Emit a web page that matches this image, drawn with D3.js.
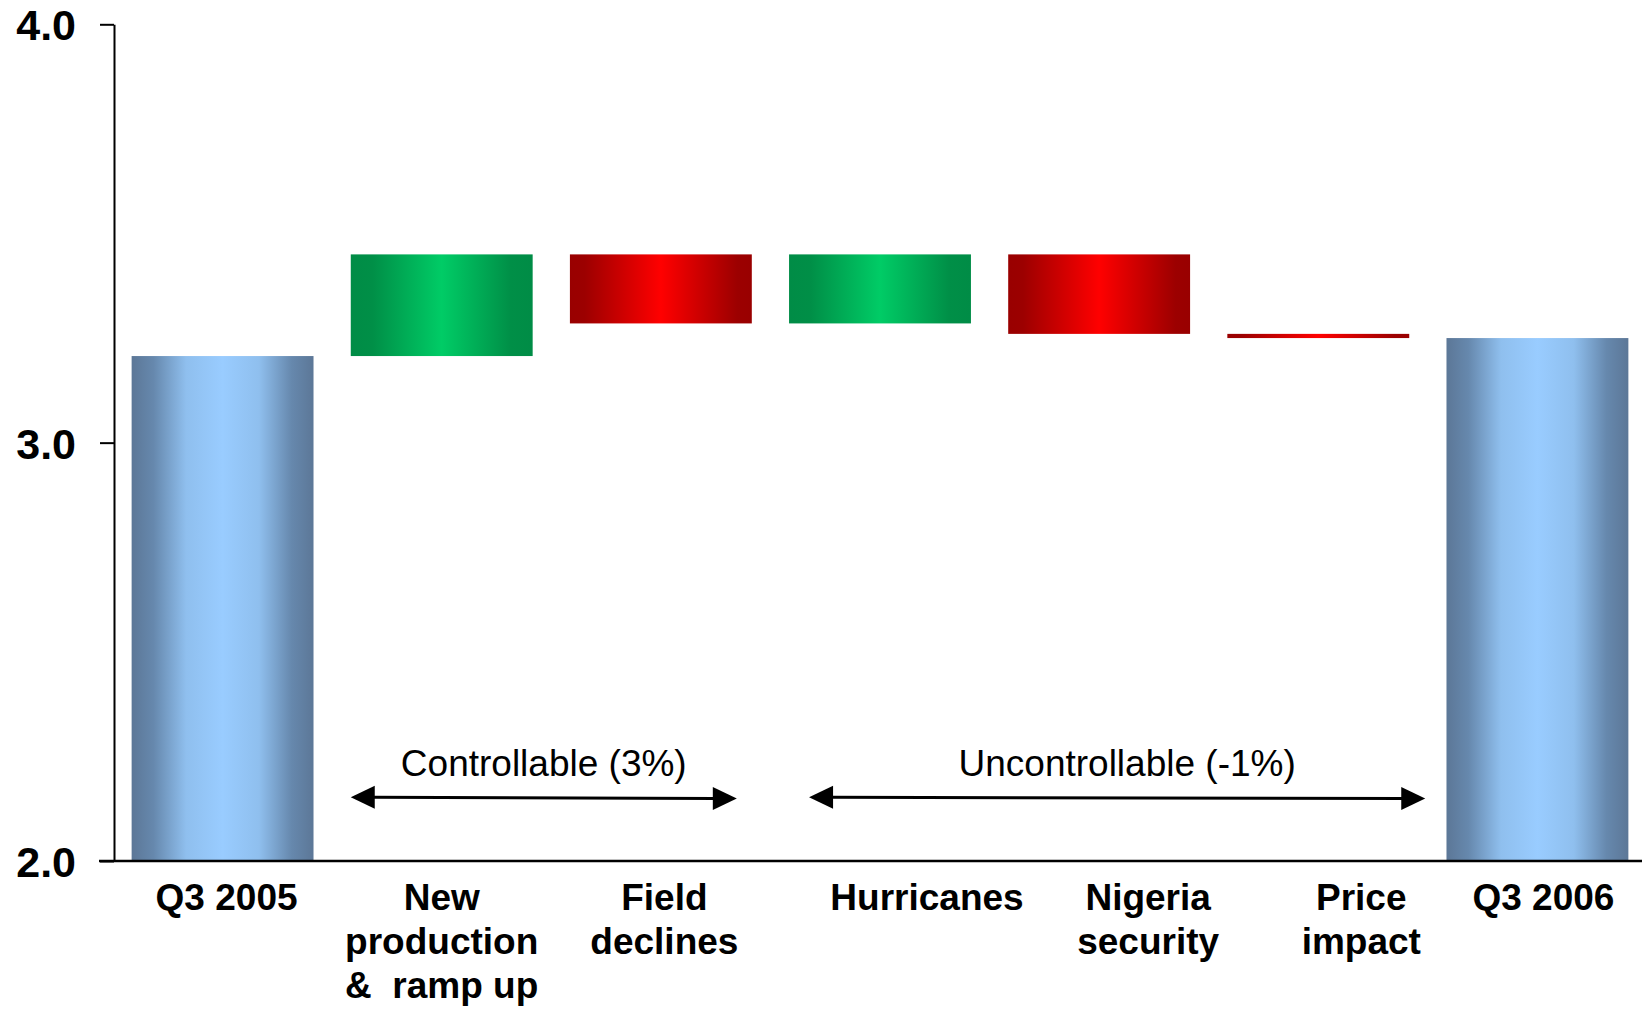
<!DOCTYPE html>
<html>
<head>
<meta charset="utf-8">
<script src="https://cdn.jsdelivr.net/npm/d3@7"></script>
<style>
  html, body { margin: 0; padding: 0; background: #fff; }
  svg { display: block; font-family: "Liberation Sans", Arial, sans-serif; }
</style>
</head>
<body>
<svg id="chart" width="1642" height="1010"></svg>
<script>
// Production bridge, Q3 2005 to Q3 2006
const categories = ["Q3 2005", "New production & ramp up", "Field declines", "Hurricanes", "Nigeria security", "Price impact", "Q3 2006"];
const categoryLines = [["Q3 2005"], ["New", "production", "&  ramp up"], ["Field", "declines"], ["Hurricanes"], ["Nigeria", "security"], ["Price", "impact"], ["Q3 2006"]];
const startValue = 3.207;
const changes = [0.243, -0.165, 0.165, -0.19, -0.01];
const endValue = 3.25;
const yTicks = [2.0, 3.0, 4.0];
const groupLabels = ["Controllable (3%)", "Uncontrollable (-1%)"];
const groupRanges = [[1, 2], [3, 5]];

// Build waterfall segments
const bars = [];
let running = startValue;
bars.push({ name: categories[0], y0: 2, y1: startValue, kind: "total" });
changes.forEach((d, i) => {
  const next = running + d;
  bars.push({ name: categories[i + 1], y0: Math.min(running, next), y1: Math.max(running, next), kind: d >= 0 ? "up" : "down" });
  running = next;
});
bars.push({ name: categories[6], y0: 2, y1: endValue, kind: "total" });

const svg = d3.select("#chart");
const axisX = 114, axisTop = 24.3, axisBottom = 861;

const x = d3.scaleBand().domain(categories).range([113, 1647]).paddingInner(0.17).paddingOuter(0.085);
const y = d3.scaleLinear().domain([2, 4]).range([axisBottom, axisTop]);

// Gradients
const defs = svg.append("defs");
function grad(id, stops) {
  const g = defs.append("linearGradient").attr("id", id).attr("x1", "0%").attr("x2", "100%").attr("y1", "0%").attr("y2", "0%");
  stops.forEach(([o, c]) => g.append("stop").attr("offset", o).attr("stop-color", c));
}
grad("g-total", [[0, "#5c7797"], [0.12, "#6688ad"], [0.3, "#8fbfee"], [0.5, "#99ccff"], [0.7, "#8fbfee"], [0.88, "#6688ad"], [1, "#5c7797"]]);
grad("g-up", [[0, "#008c46"], [0.12, "#008f47"], [0.5, "#00cc66"], [0.88, "#008f47"], [1, "#008c46"]]);
grad("g-down", [[0, "#990000"], [0.08, "#9c0000"], [0.5, "#ff0000"], [0.92, "#9c0000"], [1, "#990000"]]);

// Bars
svg.append("g").selectAll("rect").data(bars).join("rect")
  .attr("x", d => x(d.name))
  .attr("width", x.bandwidth())
  .attr("y", d => y(d.y1))
  .attr("height", d => Math.max(y(d.y0) - y(d.y1), 1))
  .attr("fill", d => `url(#g-${d.kind})`);

// Y axis
const yAxis = d3.axisLeft(y).tickValues(yTicks).tickFormat(d3.format(".1f")).tickSize(14).tickSizeOuter(0).tickPadding(24);
const gy = svg.append("g").attr("transform", `translate(${axisX},0)`).call(yAxis);
gy.select(".domain").attr("stroke", "#000").attr("stroke-width", 2);
gy.selectAll(".tick line").attr("stroke", "#000").attr("stroke-width", 2);
gy.selectAll(".tick text")
  .attr("font-size", 43).attr("font-weight", "bold").attr("fill", "#000")
  .attr("font-family", "'Liberation Sans', Arial, sans-serif")
  .attr("dy", "0.36em");

// X baseline
svg.append("line")
  .attr("x1", 99).attr("x2", 1642)
  .attr("y1", y(2)).attr("y2", y(2))
  .attr("stroke", "#000").attr("stroke-width", 2.6);

// Category labels
const labelNudge = [4, 0, 3.5, 47, 49, 43, 6];
const labels = svg.append("g").attr("font-size", 37).attr("font-weight", "bold").attr("text-anchor", "middle").attr("fill", "#000");
categories.forEach((c, i) => {
  const t = labels.append("text")
    .attr("x", x(c) + x.bandwidth() / 2 + labelNudge[i])
    .attr("y", 910)
    .style("white-space", "pre");
  categoryLines[i].forEach((line, j) => {
    t.append("tspan")
      .attr("x", x(c) + x.bandwidth() / 2 + labelNudge[i])
      .attr("dy", j === 0 ? 0 : 44)
      .text(line);
  });
});

// Grouping arrows
const arrowInset = [[0, -15], [20, 16]];
const textNudge = [0, 10];
const arrows = svg.append("g");
groupRanges.forEach(([a, b], i) => {
  const xs = x(categories[a]) + arrowInset[i][0];
  const xe = x(categories[b]) + x.bandwidth() + arrowInset[i][1];
  const ys = 797.2, ye = 798.6;
  const head = 24, half = 11.5;
  arrows.append("line")
    .attr("x1", xs + head - 2).attr("y1", ys)
    .attr("x2", xe - head + 2).attr("y2", ye)
    .attr("stroke", "#000").attr("stroke-width", 3);
  arrows.append("path")
    .attr("d", `M${xs},${ys} L${xs + head},${ys - half} L${xs + head},${ys + half} Z`)
    .attr("fill", "#000");
  arrows.append("path")
    .attr("d", `M${xe},${ye} L${xe - head},${ye - half} L${xe - head},${ye + half} Z`)
    .attr("fill", "#000");
  arrows.append("text")
    .attr("x", (xs + xe) / 2 + textNudge[i])
    .attr("y", 776)
    .attr("text-anchor", "middle")
    .attr("font-size", 37)
    .attr("fill", "#000")
    .text(groupLabels[i]);
});
</script>
</body>
</html>
